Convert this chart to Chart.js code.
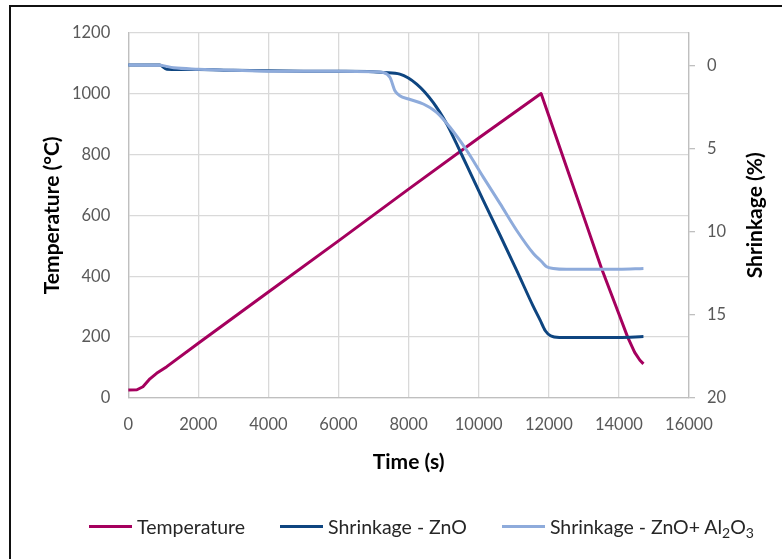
<!DOCTYPE html>
<html><head><meta charset="utf-8">
<script src="https://cdn.jsdelivr.net/npm/chart.js@4.4.1/dist/chart.umd.min.js"></script>
<style>
html,body{margin:0;padding:0;background:#fff;overflow:hidden;width:782px;height:559px;}
#wrap{position:relative;width:782px;height:559px;overflow:hidden;}
#frame{position:absolute;left:9px;top:5px;width:900px;height:700px;border-left:2.5px solid #111;border-top:2.5px solid #111;pointer-events:none;}
#legend{position:absolute;left:89px;top:514px;height:24px;display:flex;align-items:center;gap:35px;font-family:Lato,'Open Sans',sans-serif;font-size:19.5px;color:#262626;white-space:nowrap;}
.item{display:flex;align-items:center;}
.sw{width:43px;height:3px;margin-right:5px;}
sub{font-size:0.72em;vertical-align:-0.3em;line-height:0;}
</style></head>
<body>
<div id="wrap">
<canvas id="c" width="782" height="559"></canvas>
<div id="frame"></div>
<div id="legend"></div>
</div>
<script>
// ---- data ----
const seriesLabels = ['Temperature', 'Shrinkage - ZnO', 'Shrinkage - ZnO+ Al\u2082O\u2083'];
const seriesColors = ['#A5005E', '#0E4580', '#8EABDB'];

const tempTime = [0, 250, 420, 620, 810, 1100, 2000, 4000, 6000, 8000, 10000, 11780, 12000, 12500, 13000, 13500, 14000, 14250, 14450, 14600, 14700];
const tempValue = [26, 27, 37, 63, 81, 103, 180, 348, 516, 686, 854, 1000, 927, 760, 594, 427, 276, 200, 150, 124, 112];

const znoTime = [0, 900, 1100, 2000, 3000, 4000, 5000, 6000, 7000, 7300, 7750, 8230, 8700, 9090, 9370, 9660, 10130, 10610, 11080, 11560, 11750, 11900, 12050, 12300, 13000, 14000, 14700];
const znoShrink = [-0.05, -0.05, 0.2, 0.22, 0.27, 0.3, 0.32, 0.33, 0.35, 0.4, 0.5, 1.1, 2.2, 3.5, 4.7, 6.0, 8.1, 10.2, 12.3, 14.5, 15.3, 15.95, 16.25, 16.35, 16.35, 16.35, 16.3];

const alTime = [0, 900, 1300, 2000, 3000, 4000, 5000, 6000, 7000, 7280, 7470, 7610, 7750, 8000, 8420, 8800, 9180, 9660, 10130, 10610, 11080, 11560, 11800, 11940, 12130, 12500, 13000, 14000, 14700];
const alShrink = [-0.05, -0.03, 0.12, 0.2, 0.27, 0.32, 0.33, 0.33, 0.35, 0.4, 0.7, 1.5, 1.8, 2.0, 2.3, 2.8, 3.7, 5.1, 6.7, 8.3, 9.9, 11.3, 11.8, 12.1, 12.2, 12.25, 12.25, 12.25, 12.2];

const xTicks = [0, 2000, 4000, 6000, 8000, 10000, 12000, 14000, 16000];
const tempTicks = [0, 200, 400, 600, 800, 1000, 1200];
const shrinkTicks = [0, 5, 10, 15, 20];

const xTitle = 'Time (s)';
const yTitle = 'Temperature (\u00B0C)';
const y2Title = 'Shrinkage (%)';

// ---- chart ----
const FONT = "Lato, 'Open Sans', sans-serif";
const TITLE_SIZE = 21;
const toPts = (xs, ys) => xs.map((x, i) => ({x, y: ys[i]}));
const GRID = '#d9d9d9', AXIS = '#bfbfbf', TICK = '#595959';
const plain = v => String(v);

const rightTitle = {
  id: 'rightTitle',
  afterDraw(chart) {
    const s = chart.scales.y2, ctx = chart.ctx;
    ctx.save();
    ctx.font = 'bold ' + TITLE_SIZE + 'px ' + FONT;
    ctx.fillStyle = '#000';
    ctx.textAlign = 'center';
    ctx.textBaseline = 'middle';
    ctx.translate(s.right - 4 - TITLE_SIZE * 0.6, (chart.chartArea.top + chart.chartArea.bottom) / 2);
    ctx.rotate(-Math.PI / 2);
    ctx.fillText(y2Title, 0, 0);
    ctx.restore();
  }
};

const chart = new Chart(document.getElementById('c'), {
  type: 'line',
  data: {
    datasets: [
      {label: seriesLabels[0], order: 3, data: toPts(tempTime, tempValue), yAxisID: 'y', borderColor: seriesColors[0], borderWidth: 3, pointRadius: 0, tension: 0, borderJoinStyle: 'round'},
      {label: seriesLabels[1], order: 2, data: toPts(znoTime, znoShrink), yAxisID: 'y2', borderColor: seriesColors[1], borderWidth: 3, pointRadius: 0, cubicInterpolationMode: 'monotone'},
      {label: seriesLabels[2], order: 1, data: toPts(alTime, alShrink), yAxisID: 'y2', borderColor: seriesColors[2], borderWidth: 3, pointRadius: 0, cubicInterpolationMode: 'monotone'}
    ]
  },
  options: {
    responsive: false,
    animation: false,
    devicePixelRatio: 1,
    layout: {padding: {left: 35.4, right: 10.4, top: 32.6, bottom: 80.4}},
    plugins: {legend: {display: false}, tooltip: {enabled: false}},
    scales: {
      x: {
        type: 'linear', min: 0, max: 16000,
        afterBuildTicks: s => { s.ticks = xTicks.map(v => ({value: v})); },
        afterFit: s => { s.height = 80.6; },
        grid: {color: GRID, lineWidth: 1.3, drawTicks: false},
        border: {color: AXIS, width: 1.3},
        ticks: {padding: 17, color: TICK, font: {family: FONT, size: 16.5}, maxRotation: 0, autoSkip: false, callback: plain},
        title: {display: true, text: xTitle, color: '#000', font: {family: FONT, size: TITLE_SIZE, weight: 'bold'}, padding: {top: 4, bottom: 4}}
      },
      y: {
        position: 'left', min: 0, max: 1200,
        afterBuildTicks: s => { s.ticks = tempTicks.map(v => ({value: v})); },
        afterFit: s => { s.width = 92.8; },
        grid: {color: GRID, lineWidth: 1.3, drawTicks: false},
        border: {color: AXIS, width: 1.3},
        ticks: {padding: 18, color: TICK, font: {family: FONT, size: 16.5}, callback: plain},
        title: {display: true, text: yTitle, color: '#000', font: {family: FONT, size: TITLE_SIZE, weight: 'bold'}, padding: {top: 4, bottom: 4}}
      },
      y2: {
        position: 'right', min: -2, max: 20, reverse: true,
        afterBuildTicks: s => { s.ticks = shrinkTicks.map(v => ({value: v})); },
        afterFit: s => { s.width = 82.6; },
        grid: {drawOnChartArea: false, color: AXIS, lineWidth: 1.3, tickLength: 6},
        border: {color: AXIS, width: 1.3},
        ticks: {padding: 12, color: TICK, font: {family: FONT, size: 16.5}, callback: plain}
      }
    }
  },
  plugins: [rightTitle]
});

// ---- HTML legend (for subscripts) ----
const toHtml = s => s.replace(/\u2082/g, '<sub>2</sub>').replace(/\u2083/g, '<sub>3</sub>');
document.getElementById('legend').innerHTML = chart.data.datasets.map(d =>
  `<div class="item"><span class="sw" style="background:${d.borderColor}"></span><span>${toHtml(d.label)}</span></div>`).join('');
</script>
</body></html>
